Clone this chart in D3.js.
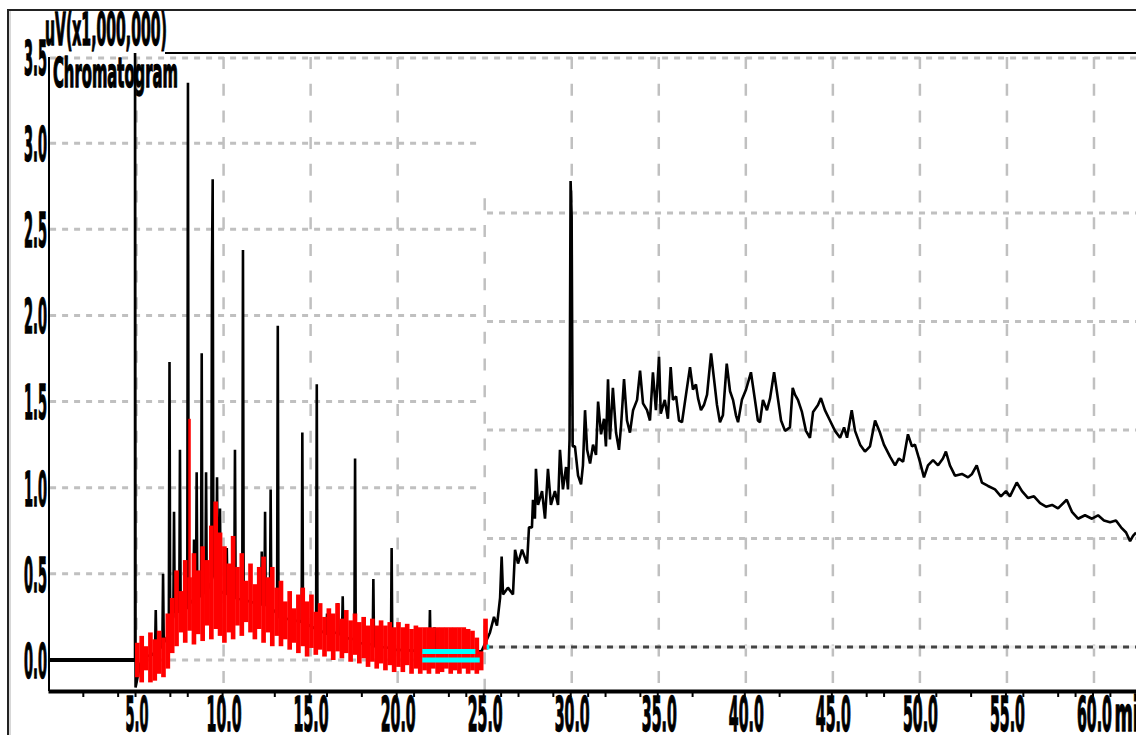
<!DOCTYPE html>
<html>
<head>
<meta charset="utf-8">
<script src="https://cdn.jsdelivr.net/npm/d3@7"></script>
<style>
    body { margin: 0; background: #fff; overflow: hidden; }
    #chrom-vis { width: 1136px; height: 735px; }
    text { font-family: "Liberation Sans Narrow", "DejaVu Sans Condensed", sans-serif; font-weight: bold; fill: #000; stroke: #000; stroke-width: 1.4px; }
</style>
</head>
<body>
<div id="chrom-vis"></div>
<script>
// axis labels / ticks
const yTickValues = [0.0, 0.5, 1.0, 1.5, 2.0, 2.5, 3.0, 3.5];
const xTickValues = [5, 10, 15, 20, 25, 30, 35, 40, 45, 50, 55, 60];
const xMinorTicks = [2, 4, 5, 7, 8, 10, 13, 15, 16, 18, 20, 21, 23, 24, 25, 26, 27, 29, 30, 31,
    32, 34, 35, 37, 40, 42, 45, 47, 48, 50, 51, 53, 55, 56, 58, 59, 60, 61];
const yAxisTitle = "uV(x1,000,000)";
const chartTitle = "Chromatogram";
const timeUnit = "min";

// grid of the left window (0-25 min) and the right window (25-62.5 min)
const leftGridValues = [0.0, 0.5, 1.0, 1.5, 2.0, 2.5, 3.0];
const rightGridValues = [0.5, 1.0, 1.5, 2.0];
const vGridTimes = [5, 10, 15, 20, 25, 30, 35, 40, 45, 50, 55, 60];
const vGridTops = [3.5, 3.5, 3.5, 3.5, 2.68, 3.5, 3.5, 3.5, 3.5, 3.5, 3.5, 3.5];

// black trace, [time (min), intensity]
const blackTrace = [
    [0.0, 0.0], [5.0, 0.0], [5.0, 3.8], [5.03, -0.16], [5.3, -0.02], [5.6, 0.02], [6.0, 0.03],
    [6.15, 0.05], [6.19, 0.29], [6.23, 0.05], [6.57, 0.08], [6.61, 0.50], [6.65, 0.10],
    [6.94, 0.15], [6.98, 1.73], [7.02, 0.20], [7.2, 0.25], [7.24, 0.86], [7.28, 0.28],
    [7.54, 0.28], [7.58, 1.22], [7.62, 0.30], [8.0, 0.30], [8.04, 3.35], [8.08, 0.32],
    [8.35, 0.35], [8.39, 0.70], [8.43, 0.35], [8.5, 0.35], [8.54, 1.09], [8.58, 0.35],
    [8.79, 0.38], [8.83, 1.78], [8.87, 0.38], [9.04, 0.40], [9.08, 1.09], [9.12, 0.40],
    [9.38, 0.45], [9.42, 2.27], [9.46, 2.79], [9.5, 0.50], [9.67, 0.45], [9.71, 1.06], [9.75, 0.45],
    [9.84, 0.40], [9.88, 0.88], [9.92, 0.40], [10.23, 0.38], [10.27, 0.65], [10.31, 0.38],
    [10.7, 0.38], [10.74, 1.22], [10.78, 0.36], [11.16, 0.35], [11.2, 2.38], [11.24, 0.35],
    [12.24, 0.32], [12.28, 0.63], [12.32, 0.32], [12.43, 0.32], [12.47, 0.86], [12.51, 0.32],
    [12.75, 0.30], [12.79, 0.99], [12.83, 0.30], [13.16, 0.27], [13.2, 1.94], [13.24, 0.25],
    [14.57, 0.22], [14.61, 1.32], [14.65, 0.22], [15.4, 0.18], [15.44, 1.60], [15.48, 0.18],
    [15.99, 0.15], [16.03, 0.27], [16.07, 0.15], [16.61, 0.16], [16.65, 0.33], [16.69, 0.15],
    [16.89, 0.15], [16.93, 0.37], [16.97, 0.13], [17.6, 0.12], [17.64, 1.17], [17.68, 0.10],
    [18.65, 0.09], [18.69, 0.47], [18.73, 0.08], [19.7, 0.07], [19.74, 0.65], [19.78, 0.06],
    [21.9, 0.05], [21.94, 0.29], [21.98, 0.05], [22.16, 0.05], [22.2, 0.19], [22.24, 0.05],
    [24.9, 0.05],
    [25.22, 0.12], [25.39, 0.16], [25.62, 0.25], [25.79, 0.20], [25.97, 0.36], [26.06, 0.60],
    [26.14, 0.38], [26.42, 0.42], [26.71, 0.38], [26.83, 0.64], [27.0, 0.56], [27.23, 0.64],
    [27.52, 0.56], [27.63, 0.77], [27.8, 0.77], [27.86, 0.93], [27.97, 0.82], [28.03, 1.11],
    [28.15, 0.90], [28.38, 0.98], [28.55, 0.82], [28.72, 1.11], [28.89, 0.90], [29.12, 0.98],
    [29.3, 0.90], [29.41, 1.22], [29.58, 0.99], [29.76, 1.12], [29.87, 0.99], [29.96, 1.28],
    [30.02, 2.78], [30.08, 2.58], [30.14, 1.24], [30.27, 1.24], [30.45, 1.07], [30.62, 1.02],
    [30.73, 1.13], [30.85, 1.45], [30.97, 1.22], [31.14, 1.14], [31.31, 1.25], [31.48, 1.19],
    [31.6, 1.50], [31.77, 1.31], [31.94, 1.40], [32.05, 1.24], [32.17, 1.63], [32.28, 1.28],
    [32.45, 1.58], [32.63, 1.32], [32.8, 1.22], [32.92, 1.36], [33.09, 1.63], [33.26, 1.39],
    [33.43, 1.32], [33.61, 1.45], [33.84, 1.51], [34.01, 1.68], [34.18, 1.49], [34.41, 1.45],
    [34.58, 1.39], [34.75, 1.67], [34.92, 1.45], [35.1, 1.76], [35.2, 1.43], [35.43, 1.51],
    [35.61, 1.40], [35.77, 1.70], [35.9, 1.51], [36.08, 1.53], [36.25, 1.39], [36.42, 1.38],
    [36.65, 1.54], [36.88, 1.70], [37.05, 1.57], [37.22, 1.60], [37.34, 1.52], [37.51, 1.45],
    [37.68, 1.48], [37.86, 1.54], [38.09, 1.78], [38.26, 1.63], [38.43, 1.48], [38.6, 1.38],
    [38.77, 1.42], [38.99, 1.72], [39.18, 1.56], [39.35, 1.51], [39.52, 1.42], [39.64, 1.38],
    [39.86, 1.51], [40.1, 1.57], [40.38, 1.67], [40.61, 1.51], [40.78, 1.39], [40.9, 1.38],
    [41.07, 1.51], [41.3, 1.45], [41.48, 1.52], [41.71, 1.67], [41.94, 1.51], [42.11, 1.39],
    [42.34, 1.33], [42.62, 1.35], [42.78, 1.58], [42.91, 1.54], [43.08, 1.51], [43.31, 1.44],
    [43.54, 1.33], [43.77, 1.29], [43.95, 1.44], [44.23, 1.48], [44.4, 1.52], [44.63, 1.45],
    [44.92, 1.39], [45.21, 1.33], [45.5, 1.29], [45.73, 1.35], [45.9, 1.29], [46.17, 1.45],
    [46.36, 1.33], [46.65, 1.25], [46.93, 1.21], [47.22, 1.24], [47.51, 1.39], [47.79, 1.32],
    [48.02, 1.25], [48.37, 1.18], [48.66, 1.13], [48.88, 1.17], [49.12, 1.15], [49.4, 1.31],
    [49.63, 1.24], [49.8, 1.25], [50.09, 1.15], [50.32, 1.06], [50.55, 1.13], [50.84, 1.16],
    [51.13, 1.13], [51.41, 1.17], [51.58, 1.21], [51.81, 1.13], [52.1, 1.07], [52.5, 1.08],
    [52.85, 1.06], [53.08, 1.08], [53.35, 1.13], [53.65, 1.03], [54.0, 1.01], [54.4, 0.99],
    [54.74, 0.95], [55.03, 0.98], [55.26, 0.95], [55.65, 1.03], [55.95, 0.98], [56.3, 0.94],
    [56.64, 0.95], [56.99, 0.91], [57.33, 0.89], [57.68, 0.90], [58.02, 0.88], [58.52, 0.93],
    [58.82, 0.86], [59.17, 0.82], [59.57, 0.84], [59.97, 0.82], [60.32, 0.84], [60.66, 0.81],
    [61.01, 0.80], [61.35, 0.81], [61.64, 0.77], [61.93, 0.74], [62.16, 0.69], [62.33, 0.72],
    [62.5, 0.74]
];

// red trace envelope, sampled every 0.25 min from 5.0 min
const redStart = 5.0;
const redStep = 0.25;
const redHi = [
    0.10, 0.14, 0.08, 0.16, 0.12, 0.17, 0.13, 0.27, 0.36, 0.52, 0.40, 0.58, 0.48, 0.62, 0.52, 0.66,
    0.58, 0.78, 0.92, 0.74, 0.66, 0.56, 0.72, 0.54, 0.62, 0.46, 0.56, 0.44, 0.54, 0.60, 0.48, 0.54,
    0.42, 0.46, 0.34, 0.40, 0.30, 0.38, 0.42, 0.34, 0.38, 0.28, 0.33, 0.25, 0.30, 0.27, 0.33, 0.24,
    0.29, 0.23, 0.27, 0.22, 0.25, 0.20, 0.24, 0.20, 0.23, 0.20, 0.22, 0.19, 0.22, 0.19, 0.21, 0.18,
    0.20, 0.19, 0.19, 0.19, 0.19, 0.19, 0.19, 0.19, 0.19, 0.19, 0.19, 0.19, 0.18, 0.17, 0.13, 0.05,
    0.24
];
const redLo = [
    -0.10, -0.13, -0.06, -0.13, -0.12, -0.08, -0.10, -0.05, 0.04, 0.08, 0.16, 0.10, 0.17, 0.09, 0.15, 0.11,
    0.20, 0.12, 0.18, 0.14, 0.10, 0.16, 0.12, 0.20, 0.14, 0.22, 0.16, 0.12, 0.18, 0.10, 0.16, 0.08,
    0.14, 0.08, 0.12, 0.06, 0.10, 0.04, 0.08, 0.02, 0.07, 0.03, 0.06, 0.02, 0.05, 0.00, 0.05, 0.01,
    0.04, -0.01, 0.03, -0.02, 0.01, -0.04, -0.01, -0.05, -0.02, -0.06, -0.03, -0.07, -0.04, -0.07, -0.03, -0.08,
    -0.05, -0.08, -0.06, -0.08, -0.05, -0.08, -0.07, -0.05, -0.08, -0.06, -0.08, -0.05, -0.08, -0.06, -0.08, -0.06,
    0.06
];
// narrow red spikes sticking out of the band
const redSpikeTimes = [8.13];
const redSpikeValues = [1.40];

// cyan markers: start time, end time, level
const cyanStarts = [21.5, 21.5, 25.2];
const cyanEnds = [24.55, 24.8, 25.35];
const cyanLevels = [0.05, 0.0, 0.075];

/**
 * Squeezes a text horizontally to the given width (the old screen font is very narrow)
 */
function squeezeText(node, width){
    let natural = node.getComputedTextLength();
    if(natural <= 0) {
        return;
    }
    let s = width / natural;
    let x = +(node.getAttribute("x") || 0);
    node.setAttribute("x", x / s);
    node.setAttribute("transform", "scale(" + s + ",1)");
}

/**
 * Constructor for the chromatogram
 */
function ChromVis(){
    let self = this;

    self.init();
};

/**
 * Sets up the svg, scales and draws everything
 */
ChromVis.prototype.init = function(){
    let self = this;
    self.plot = {left: 48, right: 1136, top: 53, bottom: 691};

    let divChromVis = d3.select("#chrom-vis");

    self.svg = divChromVis.append("svg")
        .attr("width", 1136)
        .attr("height", 735);

    self.x = d3.scaleLinear().domain([0, 62.5]).range([self.plot.left, self.plot.right]);
    self.y = d3.scaleLinear().domain([0, 3.5]).range([660, 57]);
    // the right window was drawn with its own vertical scale
    self.yRight = d3.scaleLinear().domain([0, 2]).range([647, 213]);

    self.svg.append("defs").append("clipPath")
        .attr("id", "plot-clip")
        .append("rect")
        .attr("x", self.plot.left)
        .attr("y", self.plot.top)
        .attr("width", self.plot.right - self.plot.left)
        .attr("height", self.plot.bottom - self.plot.top);

    self.drawFrame();
    self.drawGrid();
    self.drawTraces();
    self.drawAxes();
};

/**
 * Outer window border
 */
ChromVis.prototype.drawFrame = function(){
    let self = this;

    self.svg.append("rect")
        .attr("x", 8).attr("y", 10)
        .attr("width", 1300).attr("height", 900)
        .attr("fill", "none")
        .attr("stroke", "#222")
        .attr("stroke-width", 2);
    self.svg.append("line")
        .attr("x1", 10).attr("x2", 10)
        .attr("y1", 11).attr("y2", 735)
        .attr("stroke", "#b0b0b0")
        .attr("stroke-width", 1);
};

/**
 * Dashed grid lines of both windows
 */
ChromVis.prototype.drawGrid = function(){
    let self = this;
    let grid = self.svg.append("g").attr("clip-path", "url(#plot-clip)");

    // vertical
    grid.selectAll(".vgrid").data(vGridTimes)
        .enter().append("line")
        .attr("class", "vgrid")
        .attr("x1", function(d){ return self.x(d) + 1.5; })
        .attr("x2", function(d){ return self.x(d) + 1.5; })
        .attr("y1", function(d, i){ return self.y(vGridTops[i]); })
        .attr("y2", self.plot.bottom)
        .attr("stroke", "#c0c0c0")
        .attr("stroke-width", 2.5)
        .attr("stroke-dasharray", "12 14.7");

    // left window horizontal
    grid.selectAll(".hgrid-left").data(leftGridValues)
        .enter().append("line")
        .attr("class", "hgrid-left")
        .attr("x1", self.x(0.12))
        .attr("x2", self.x(24.7))
        .attr("y1", function(d){ return self.y(d); })
        .attr("y2", function(d){ return self.y(d); })
        .attr("stroke", "#c0c0c0")
        .attr("stroke-width", 3)
        .attr("stroke-dasharray", "6 6");

    // top line runs over the whole width
    grid.append("line")
        .attr("x1", self.x(0.12))
        .attr("x2", self.plot.right)
        .attr("y1", self.y(3.5) + 1)
        .attr("y2", self.y(3.5) + 1)
        .attr("stroke", "#c0c0c0")
        .attr("stroke-width", 3)
        .attr("stroke-dasharray", "6 6");

    // right window horizontal
    grid.selectAll(".hgrid-right").data(rightGridValues)
        .enter().append("line")
        .attr("class", "hgrid-right")
        .attr("x1", self.x(25.22))
        .attr("x2", self.plot.right)
        .attr("y1", function(d){ return self.yRight(d); })
        .attr("y2", function(d){ return self.yRight(d); })
        .attr("stroke", "#c0c0c0")
        .attr("stroke-width", 3)
        .attr("stroke-dasharray", "6 6");

    // right window zero line, dark dashes on light grey
    grid.append("line")
        .attr("x1", self.x(25.22)).attr("x2", self.plot.right)
        .attr("y1", self.yRight(0)).attr("y2", self.yRight(0))
        .attr("stroke", "#eeeeee")
        .attr("stroke-width", 3);
    grid.append("line")
        .attr("x1", self.x(25.22)).attr("x2", self.plot.right)
        .attr("y1", self.yRight(0)).attr("y2", self.yRight(0))
        .attr("stroke", "#444")
        .attr("stroke-width", 3)
        .attr("stroke-dasharray", "6 6");
};

/**
 * Black and red traces plus the cyan markers
 */
ChromVis.prototype.drawTraces = function(){
    let self = this;
    let traces = self.svg.append("g").attr("clip-path", "url(#plot-clip)");

    let line = d3.line()
        .x(function(d){ return self.x(d[0]); })
        .y(function(d){ return self.y(d[1]); });

    // thick flat part before the solvent peak
    traces.append("path")
        .datum(blackTrace.filter(function(d){ return d[0] < 5.0 || (d[0] == 5.0 && d[1] == 0); }))
        .attr("d", line)
        .attr("fill", "none")
        .attr("stroke", "#000")
        .attr("stroke-width", 4);

    traces.append("path")
        .datum(blackTrace)
        .attr("d", line)
        .attr("fill", "none")
        .attr("stroke", "#000")
        .attr("stroke-width", 2.6)
        .attr("stroke-linejoin", "bevel");

    // red trace drawn as its low / high band per sample
    let barWidth = self.x(redStep) - self.x(0);
    traces.selectAll(".red-bar").data(redHi)
        .enter().append("rect")
        .attr("class", "red-bar")
        .attr("x", function(d, i){ return self.x(redStart + i * redStep); })
        .attr("width", barWidth + 0.3)
        .attr("y", function(d){ return self.y(d); })
        .attr("height", function(d, i){ return self.y(redLo[i]) - self.y(d); })
        .attr("fill", "#ff0000");

    traces.selectAll(".red-spike").data(redSpikeValues)
        .enter().append("line")
        .attr("class", "red-spike")
        .attr("x1", function(d, i){ return self.x(redSpikeTimes[i]); })
        .attr("x2", function(d, i){ return self.x(redSpikeTimes[i]); })
        .attr("y1", function(d){ return self.y(d); })
        .attr("y2", self.y(0.4))
        .attr("stroke", "#ff0000")
        .attr("stroke-width", 2.5);

    traces.selectAll(".cyan").data(cyanLevels)
        .enter().append("line")
        .attr("class", "cyan")
        .attr("x1", function(d, i){ return self.x(cyanStarts[i]); })
        .attr("x2", function(d, i){ return self.x(cyanEnds[i]); })
        .attr("y1", function(d){ return self.y(d); })
        .attr("y2", function(d){ return self.y(d); })
        .attr("stroke", "#00ffff")
        .attr("stroke-width", 5);
};

/**
 * Axis lines, ticks and labels
 */
ChromVis.prototype.drawAxes = function(){
    let self = this;

    // minor ticks + axis line
    let minor = self.svg.append("g")
        .attr("transform", "translate(0," + self.plot.bottom + ")")
        .call(d3.axisBottom(self.x).tickValues(xMinorTicks).tickSize(6).tickSizeOuter(0).tickFormat(""));
    minor.select(".domain").attr("stroke", "#000").attr("stroke-width", 4);
    minor.selectAll(".tick line").attr("stroke", "#000").attr("stroke-width", 2);

    // x labels
    let xLabels = self.svg.append("g")
        .attr("transform", "translate(1.5," + self.plot.bottom + ")")
        .call(d3.axisBottom(self.x).tickValues(xTickValues).tickSize(0).tickFormat(d3.format(".1f")));
    xLabels.select(".domain").remove();
    xLabels.selectAll(".tick text")
        .attr("y", 40)
        .attr("dy", 0)
        .attr("font-size", 48)
        .attr("font-family", null)
        .each(function(d){ squeezeText(this, d < 10 ? 23 : 35); });

    let unit = self.svg.append("text")
        .attr("x", self.x(60) + 22)
        .attr("y", self.plot.bottom + 40)
        .attr("font-size", 48)
        .text(timeUnit);
    squeezeText(unit.node(), 37);

    // y labels
    let yLabels = self.svg.append("g")
        .attr("transform", "translate(50,0)")
        .call(d3.axisLeft(self.y).tickValues(yTickValues).tickSize(0).tickPadding(3).tickFormat(d3.format(".1f")));
    yLabels.select(".domain").remove();
    yLabels.selectAll(".tick text")
        .attr("dy", "0.36em")
        .attr("font-size", 48)
        .attr("font-family", null)
        .each(function(){ squeezeText(this, 23); });

    // left axis line and top border
    self.svg.append("line")
        .attr("x1", 49).attr("x2", 49)
        .attr("y1", self.y(3.5)).attr("y2", self.plot.bottom)
        .attr("stroke", "#000")
        .attr("stroke-width", 2);
    self.svg.append("line")
        .attr("x1", 165).attr("x2", self.plot.right)
        .attr("y1", self.plot.top).attr("y2", self.plot.top)
        .attr("stroke", "#000")
        .attr("stroke-width", 2);

    // titles
    let title1 = self.svg.append("text")
        .attr("x", 45)
        .attr("y", 45)
        .attr("font-size", 44)
        .text(yAxisTitle);
    squeezeText(title1.node(), 122);
    let title2 = self.svg.append("text")
        .attr("x", 53)
        .attr("y", 87)
        .attr("font-size", 40)
        .text(chartTitle);
    squeezeText(title2.node(), 125);
};

new ChromVis();
</script>
</body>
</html>
